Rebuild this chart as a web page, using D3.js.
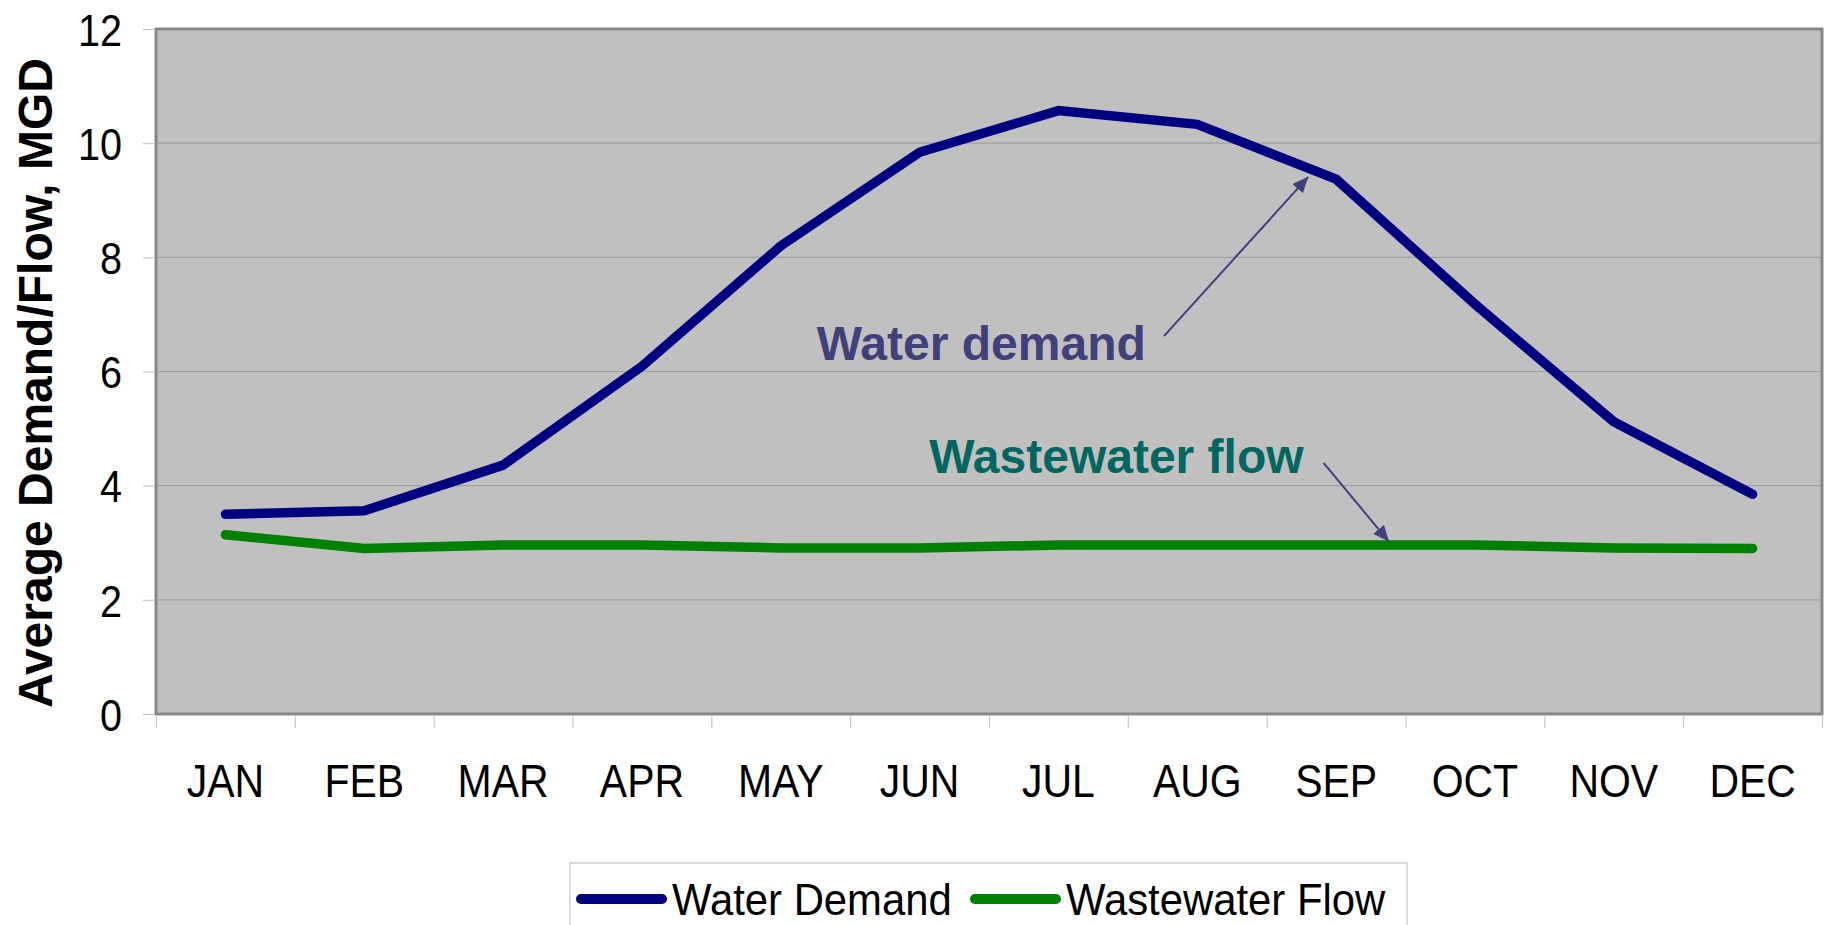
<!DOCTYPE html>
<html>
<head>
<meta charset="utf-8">
<script src="https://cdn.jsdelivr.net/npm/d3@7/dist/d3.min.js"></script>
<style>
  html, body { margin: 0; padding: 0; background: #ffffff; }
  svg { display: block; }
  text { font-family: "Liberation Sans", Arial, Helvetica, sans-serif; }
</style>
</head>
<body>
<svg id="chart" width="1832" height="925"></svg>
<script>
// ---- data ----
const months = ["JAN","FEB","MAR","APR","MAY","JUN","JUL","AUG","SEP","OCT","NOV","DEC"];
const waterDemand = [3.50, 3.56, 4.36, 6.09, 8.20, 9.84, 10.57, 10.33, 9.37, 7.18, 5.12, 3.85];
const wastewaterFlow = [3.14, 2.90, 2.96, 2.96, 2.91, 2.91, 2.96, 2.96, 2.96, 2.96, 2.91, 2.90];
const yTicks = [0, 2, 4, 6, 8, 10, 12];
const seriesNames = ["Water Demand", "Wastewater Flow"];
const yTitle = "Average Demand/Flow, MGD";
// annotations in data units (x = fractional month index, y = MGD)
const annoLabels = ["Water demand", "Wastewater flow"];
const annoTextPos = [[4.26, 6.2], [5.07, 4.22]];
const annoArrowFrom = [[6.76, 6.62], [7.91, 4.40]];
const annoArrowTo = [[7.80, 9.41], [8.38, 3.02]];

// ---- layout ----
const W = 1832, H = 925;
const plot = { left: 156, right: 1822, top: 29, bottom: 714 };
const seriesColors = ["#000080", "#008000"];
const annoColors = ["#40407a", "#006660"];

const svg = d3.select("#chart");

const x = d3.scaleBand().domain(months).range([plot.left, plot.right]).paddingInner(0).paddingOuter(0);
const xIdx = d3.scaleLinear().domain([-0.5, months.length - 0.5]).range([plot.left, plot.right]);
const y = d3.scaleLinear().domain([0, 12]).range([plot.bottom, plot.top]);

// plot background
svg.append("rect")
  .attr("x", plot.left).attr("y", plot.top)
  .attr("width", plot.right - plot.left).attr("height", plot.bottom - plot.top)
  .attr("fill", "#c0c0c0");

// gridlines
svg.append("g").selectAll("line").data(yTicks.filter(d => d > 0 && d < 12)).join("line")
  .attr("x1", plot.left).attr("x2", plot.right)
  .attr("y1", d => y(d)).attr("y2", d => y(d))
  .attr("stroke", "#a0a0a0").attr("stroke-width", 1.2);

// plot border
svg.append("rect")
  .attr("x", plot.left).attr("y", plot.top)
  .attr("width", plot.right - plot.left).attr("height", plot.bottom - plot.top)
  .attr("fill", "none").attr("stroke", "#878787").attr("stroke-width", 3);

// y axis
const yAxis = svg.append("g")
  .attr("transform", `translate(${plot.left - 1},0)`)
  .call(d3.axisLeft(y).tickValues(yTicks).tickSize(12).tickFormat(d3.format("d")));
yAxis.select(".domain").remove();
yAxis.selectAll(".tick line").attr("stroke", "#c8c8c8").attr("stroke-width", 1.2);
yAxis.selectAll(".tick text")
  .attr("x", 0).attr("dy", "0.36em")
  .attr("transform", "translate(-33,0) scale(0.88,1)")
  .attr("font-size", 45).attr("fill", "#000");

// x axis boundary ticks
const xTickAxis = svg.append("g")
  .attr("transform", `translate(0,${plot.bottom + 1})`)
  .call(d3.axisBottom(xIdx).tickValues(d3.range(-0.5, months.length, 1)).tickSize(13).tickFormat(""));
xTickAxis.select(".domain").remove();
xTickAxis.selectAll(".tick line").attr("stroke", "#c8c8c8").attr("stroke-width", 1.2);

// x axis labels
const xAxis = svg.append("g")
  .attr("transform", `translate(0,${plot.bottom})`)
  .call(d3.axisBottom(x).tickSize(0).tickPadding(50));
xAxis.select(".domain").remove();
xAxis.selectAll(".tick text")
  .attr("transform", "scale(0.89,1)")
  .attr("font-size", 46).attr("fill", "#000");

// y title
svg.append("text")
  .attr("transform", `translate(52,383) rotate(-90)`)
  .attr("text-anchor", "middle")
  .attr("font-size", 48).attr("font-weight", "bold").attr("fill", "#000")
  .text(yTitle);

// lines
const seriesData = [waterDemand, wastewaterFlow];
const line = d3.line()
  .x((d, i) => x(months[i]) + x.bandwidth() / 2)
  .y(d => y(d));
svg.append("g").selectAll("path").data(seriesData).join("path")
  .attr("d", d => line(d))
  .attr("fill", "none")
  .attr("stroke", (d, i) => seriesColors[i])
  .attr("stroke-width", 9.5)
  .attr("stroke-linejoin", "miter")
  .attr("stroke-linecap", "round");

// arrow marker
const defs = svg.append("defs");
defs.append("marker")
  .attr("id", "arrowhead")
  .attr("markerUnits", "userSpaceOnUse")
  .attr("viewBox", "0 0 16 14")
  .attr("refX", 16).attr("refY", 7)
  .attr("markerWidth", 16).attr("markerHeight", 14)
  .attr("orient", "auto")
  .append("path").attr("d", "M0,0 L16,7 L0,14 Z").attr("fill", "#40407a");

// annotations
const anno = svg.append("g");
annoLabels.forEach((label, i) => {
  anno.append("text")
    .attr("x", xIdx(annoTextPos[i][0])).attr("y", y(annoTextPos[i][1]))
    .attr("font-size", 48).attr("font-weight", "bold")
    .attr("fill", annoColors[i])
    .text(label);
  anno.append("line")
    .attr("x1", xIdx(annoArrowFrom[i][0])).attr("y1", y(annoArrowFrom[i][1]))
    .attr("x2", xIdx(annoArrowTo[i][0])).attr("y2", y(annoArrowTo[i][1]))
    .attr("stroke", "#40407a").attr("stroke-width", 2)
    .attr("marker-end", "url(#arrowhead)");
});

// legend
const legend = svg.append("g");
legend.append("rect")
  .attr("x", 570).attr("y", 863).attr("width", 837).attr("height", 90)
  .attr("fill", "#fff").attr("stroke", "#d0d0d0").attr("stroke-width", 1.5);
const legendX = [581, 975];
seriesNames.forEach((name, i) => {
  const g = legend.append("g").attr("transform", `translate(${legendX[i]},899)`);
  g.append("line").attr("x1", 0).attr("x2", 81).attr("y1", 0).attr("y2", 0)
    .attr("stroke", seriesColors[i]).attr("stroke-width", 10).attr("stroke-linecap", "round");
  g.append("text")
    .attr("transform", "translate(91,16) scale(0.93,1)")
    .attr("font-size", 45).attr("fill", "#000")
    .text(name);
});
</script>
</body>
</html>
